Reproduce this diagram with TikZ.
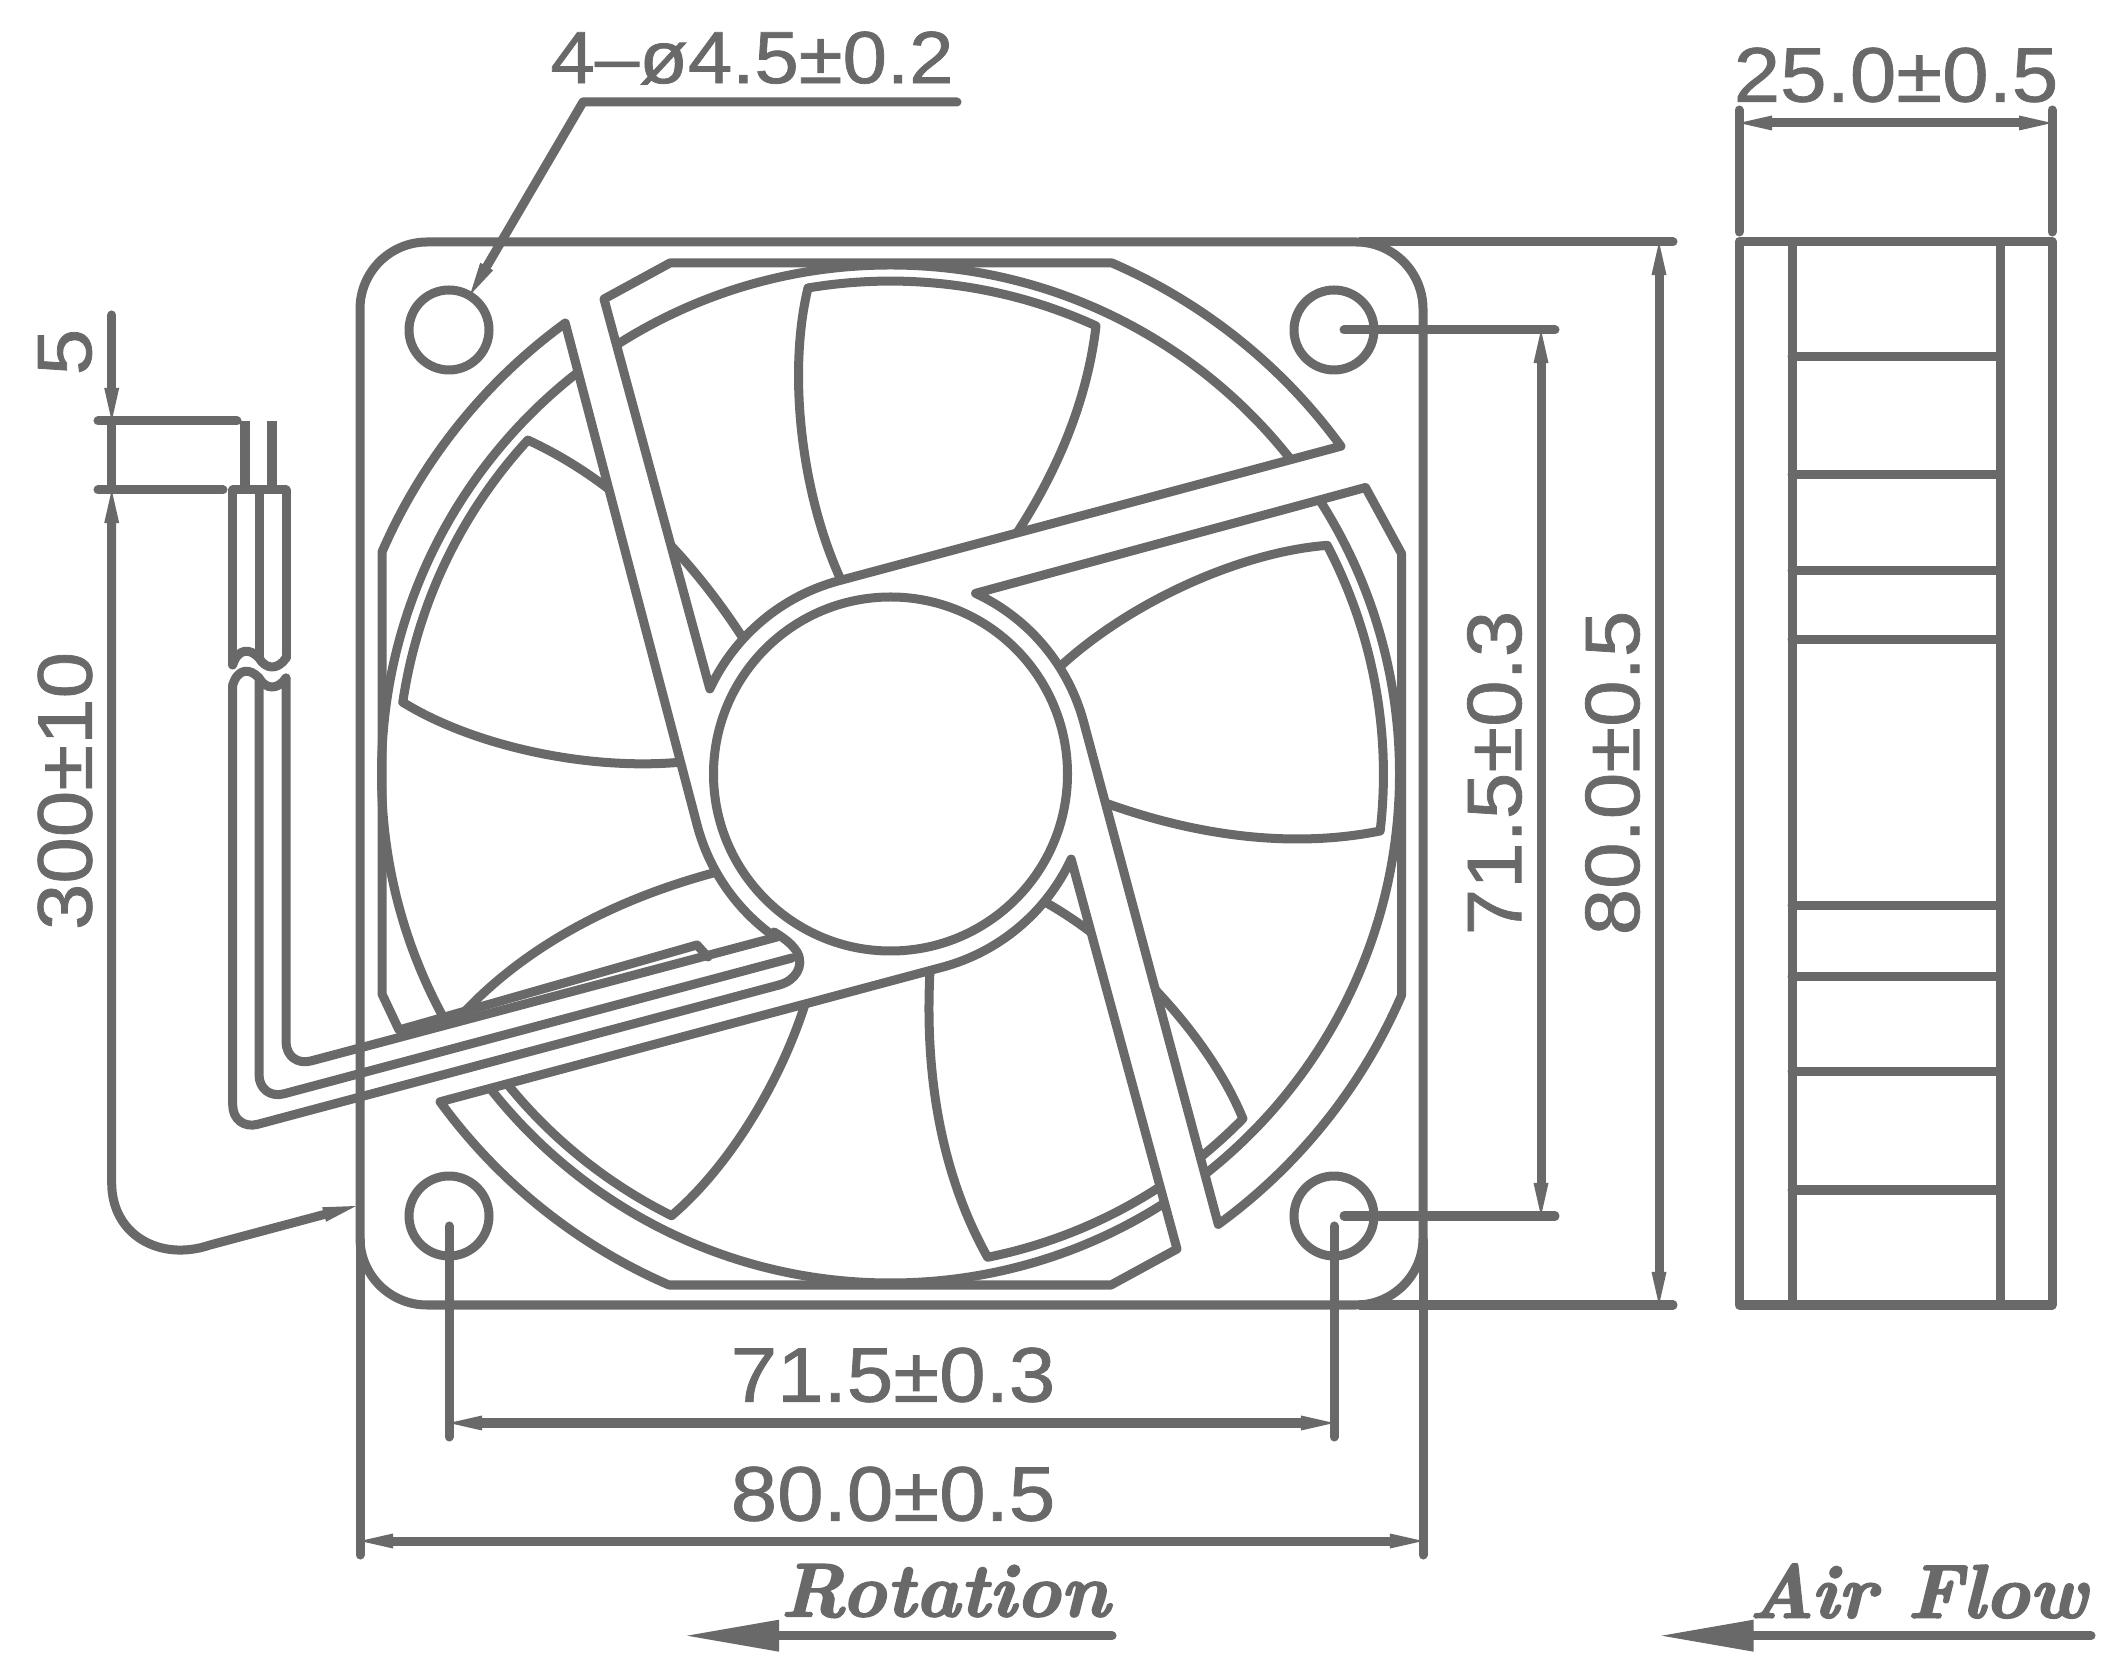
\documentclass[tikz,border=0pt]{standalone}
\usepackage{fontspec}
\usetikzlibrary{arrows.meta}
\newfontfamily\dimfont[FakeStretch=1.08,FakeBold=1]{Liberation Sans}
\newfontfamily\flowfont[FakeBold=2.5]{Latin Modern Roman}
\definecolor{fangray}{HTML}{696969}
\tikzset{
	fanline/.style={color=fangray,line width=.09cm,line join=round,line cap=round},
	dimline/.style={fanline,>={Triangle[length=.33cm,width=.15cm,line width=0pt]}},
	flowline/.style={fanline,>={Triangle[length=.92cm,width=.32cm,line width=0pt]}},
	coreline/.style={fanline,line width=.095cm,line cap=butt},
	dimtext/.style={text=fangray,inner sep=0pt,font=\dimfont\fontsize{22}{26}\selectfont},
	flowtext/.style={text=fangray,inner sep=0pt,font=\flowfont\bfseries\itshape\fontsize{21.5}{26}\selectfont},
}
\begin{document}
\begin{tikzpicture}[x=.01cm,y=-.01cm]
	\useasboundingbox (0,0) rectangle (2121,1680);
	% rotor
	\draw[fanline] (890.5,774) circle[radius=509];
	\foreach \ang in {0,72,144,216,288}{
		\draw[fanline,shift={(890.5,774)},rotate=-\ang] (-82.5,-486) arc[start angle=-99.6,end angle=-65.4,radius=494] .. controls (194.5,-354) and (149.5,-264) .. (85,-184);
		\draw[fanline,shift={(890.5,774)},rotate=-\ang] (-82.5,-486) .. controls (-102.5,-404) and (-90.5,-284) .. (-50,-195);
	}
	\fill[white] (890.5,774) circle[radius=199];
	\foreach \ang in {0,-90,90}{
		\fill[white,shift={(890.5,774)},rotate=\ang] (451.5,-329) -- (475,-286.5) -- (84,-180.5) -- (0,0) -- (-51.8,-193.2) -- cycle;
	}
	\fill[white] (399,1030) -- (697,945) -- (708,957) -- (790,935) -- (942,967) -- (439,1103) -- cycle;
	% stator
	\foreach \ang in {0,-90,180}{
		\draw[fanline,shift={(890.5,774)},rotate=\ang] (-220.5,-511) -- (221.5,-511) arc[start angle=-66.56,end angle=-36.08,radius=557.7] -- (-51.8,-193.2) arc[start angle=-105,end angle=-155,radius=199] -- (-286.5,-475) -- cycle;
	}
	\draw[fanline] (708,957) -- (697,945) -- (399,1030) -- (382,994) -- (382,552) arc[start angle=-156.56,end angle=-126.08,radius=557.7] -- (697.3,825.8) arc[start angle=165,end angle=127,radius=199];
	\draw[fanline] (890.5,774) circle[radius=177];
	\draw[fanline,rounded corners=.67cm] (360,242) rectangle (1423,1305);
	\foreach \hx in {449,1334}{
		\foreach \hy in {330,1216}{
			\draw[fanline] (\hx,\hy) circle[radius=40];
		}
	}
	% wires
	\draw[fanline] (232.7,490) -- (286,490);
	\draw[coreline] (245,421) -- (245,490);
	\draw[coreline] (272,421) -- (272,490);
	\draw[fanline] (232.7,490) -- (232.7,665);
	\draw[fanline] (259,490) -- (259,658);
	\draw[fanline] (286,490) -- (286,658);
	\draw[fanline] (232.7,665) .. controls (238,648) and (250,648) .. (259,658) .. controls (266,670) and (278,670) .. (286,658);
	\draw[fanline] (232.7,685) .. controls (238,668) and (250,668) .. (259,678) .. controls (266,690) and (278,690) .. (286,678);
	\draw[fanline,rounded corners=.26cm] (232.7,685) -- (232.7,1131) -- (779,985);
	\draw[fanline] (779,985) .. controls (795,981) and (805,966) .. (797,952) .. controls (792,944) and (784,938) .. (774,932);
	\draw[fanline,rounded corners=.26cm] (259,678) -- (259,1100.5) -- (792,958);
	\draw[fanline,rounded corners=.26cm] (286,678) -- (286,1067.6) -- (777,937);
	% dimensions
	\draw[fanline] (1360,242) -- (1673,242);
	\draw[fanline] (1360,1305) -- (1673,1305);
	\draw[fanline] (360,1240) -- (360,1555);
	\draw[fanline] (1423,1240) -- (1423,1555);
	\draw[fanline] (1344,330) -- (1555,330);
	\draw[fanline] (1344,1216) -- (1555,1216);
	\draw[fanline] (449,1226) -- (449,1437);
	\draw[fanline] (1334,1226) -- (1334,1437);
	\draw[dimline,<->] (1659,242) -- (1659,1305);
	\draw[dimline,<->] (1541,330) -- (1541,1216);
	\draw[dimline,<->] (449,1423) -- (1334,1423);
	\draw[dimline,<->] (360,1541) -- (1423,1541);
	\draw[dimline,->] (957,102) -- (583,102) -- (470,295);
	\draw[fanline] (98,421) -- (237,421);
	\draw[fanline] (98,490) -- (223,490);
	\draw[dimline,->] (111.7,315) -- (111.7,421);
	\draw[fanline] (111.7,421) -- (111.7,490);
	\draw[dimline,<->] (111.7,490) -- (111.7,1183) .. controls (111.7,1235) and (160,1262) .. (210,1245) -- (356,1206);
	\node[dimtext,font=\dimfont\fontsize{21}{26}\selectfont] (diaholes) at (752,58) {4–ø4.5±0.2};
	\node[dimtext] (depth) at (1896,75) {25.0±0.5};
	\node[dimtext,rotate=90] (pitchright) at (1494.5,773) {71.5±0.3};
	\node[dimtext,rotate=90] (sizeright) at (1612.5,773) {80.0±0.5};
	\node[dimtext,rotate=90] (wirelen) at (65,791) {300±10};
	\node[dimtext,rotate=90] (strip) at (65,352) {5};
	\node[dimtext] (pitchbottom) at (893,1375) {71.5±0.3};
	\node[dimtext] (sizebottom) at (893,1494) {80.0±0.5};
	% side view
	\draw[fanline] (1739,241.7) rectangle (2052,1305);
	\draw[fanline] (1792,241.7) -- (1792,1305);
	\draw[fanline] (2000,241.7) -- (2000,1305);
	\foreach \ry in {356.7,475,570.5,639.6,905.7,976.7,1071.7,1190}{
		\draw[fanline] (1792,\ry) -- (2000,\ry);
	}
	\draw[fanline] (1739,110) -- (1739,232);
	\draw[fanline] (2052,110) -- (2052,232);
	\draw[dimline,<->] (1739,123) -- (2052,123);
	% flow arrows
	\draw[flowline,->] (1112,1635.7) -- (687,1635.7);
	\draw[flowline,->] (2091,1635.7) -- (1661.6,1635.7);
	\node[flowtext] (rotation) at (945,1591) {Rotation};
	\node[flowtext] (airflow) at (1918,1591) {Air Flow};
\end{tikzpicture}
\end{document}
